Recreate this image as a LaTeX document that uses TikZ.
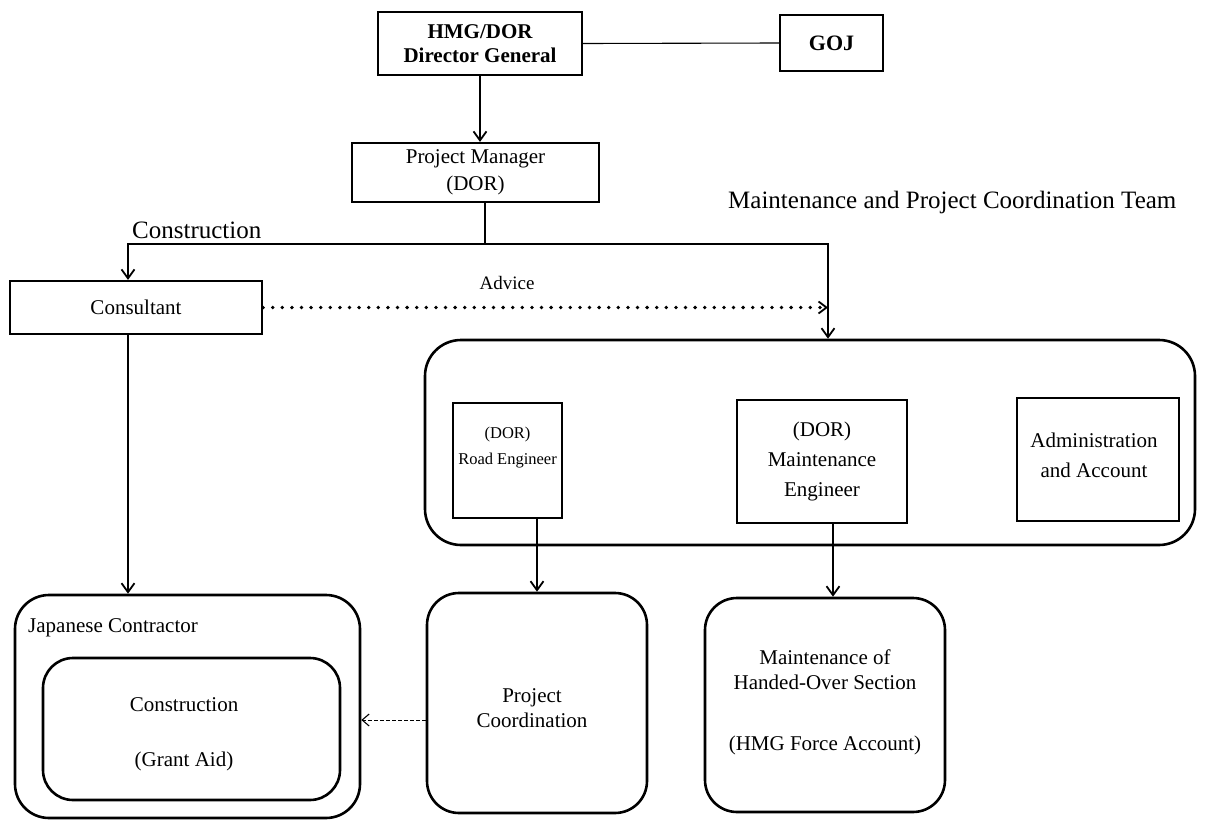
\documentclass[tikz,border=0pt]{standalone}
\usepackage{fontspec}
\setmainfont{Liberation Serif}
\usetikzlibrary{arrows.meta}
\begin{document}
\begin{tikzpicture}[x=1pt,y=-1pt,
  box/.style={draw,line width=2.2pt,inner sep=0pt,align=center,
    font=\fontsize{21}{25}\selectfont},
  rbox/.style={box,line width=2.6pt,rounded corners=32pt},
  txt/.style={inner sep=0pt,align=center,font=\fontsize{21}{25}\selectfont},
  lbl/.style={inner sep=0pt,font=\fontsize{25}{30}\selectfont},
  conn/.style={line width=2.2pt},
  arr/.style={conn,-{Straight Barb[length=9pt,width=13pt,line width=1.8pt]}},
  dots/.style={line width=3.8pt,line cap=round,dash pattern=on 0pt off 9.6pt,
    -{Straight Barb[length=8pt,width=12pt,line width=1.8pt,line cap=butt]}},
  thinarr/.style={line width=0.9pt,dash pattern=on 4pt off 2pt,
    -{Straight Barb[length=7pt,width=12pt,line width=1.1pt]}}]
\useasboundingbox (0,0) rectangle (1205,822);

% top level
\node[box,minimum width=204pt,minimum height=63pt,font=\bfseries\fontsize{21}{24}\selectfont]
  (hmg) at (480,43.5) {HMG/DOR\\Director General};
\node[box,minimum width=103pt,minimum height=56pt,font=\bfseries\fontsize{22}{26}\selectfont]
  (goj) at (831.5,43) {GOJ};
\draw[line width=1.1pt] (hmg.east) -- (goj.west);

\node[box,minimum width=247pt,minimum height=59pt,font=\fontsize{21}{27}\selectfont]
  (pm) at (475.5,172.5) {Project Manager\\(DOR)};
\draw[arr] (hmg.south) -- (hmg.south |- pm.north);

% branching below the project manager
\coordinate (split) at (485,244);
\coordinate (cL) at (128,244);
\coordinate (cR) at (828,244);
\node[lbl,anchor=west] (lcons) at (132,230) {Construction};
\node[lbl,anchor=west] (lteam) at (728,202) {Maintenance and Project Coordination Team};

\node[box,minimum width=252pt,minimum height=53pt] (cons) at (136,307.5) {Consultant};
\node[rbox,rounded corners=36pt,minimum width=770pt,minimum height=205pt] (big) at (810,442.5) {};

\draw[conn] (split |- pm.south) -- (split);
\draw[arr] (split) -- (cL) -- (cL |- cons.north);
\draw[arr] (split) -- (cR) -- (cR |- big.north);

% advice
\draw[dots] (cons.east) -- (cons.east -| cR);
\node[txt,font=\fontsize{19}{22}\selectfont] (ladv) at (507,283) {Advice};

% team members
\node[box,minimum width=109pt,minimum height=115pt] (road) at (507.5,460.5) {};
\node[txt,font=\fontsize{16.5}{26}\selectfont] (roadt) at (507.5,448) {(DOR)\\Road Engineer};
\node[box,minimum width=170pt,minimum height=123pt,font=\fontsize{21}{30}\selectfont]
  (maint) at (822,461.5) {(DOR)\\Maintenance\\Engineer};
\node[box,minimum width=162pt,minimum height=123pt] (admin) at (1098,459.5) {};
\node[txt,font=\fontsize{21}{30}\selectfont] (admint) at (1094,455) {Administration\\and Account};

% bottom row
\node[rbox,rounded corners=34pt,minimum width=345pt,minimum height=223pt] (jc) at (187.5,706.5) {};
\node[txt,anchor=west] (jct) at (28,628) {Japanese Contractor};
\node[rbox,rounded corners=30pt,minimum width=297pt,minimum height=142pt] (cg) at (191.5,729) {};
\node[txt,font=\fontsize{21}{55}\selectfont] (cgt) at (184,734) {Construction\\(Grant Aid)};

\node[rbox,minimum width=220pt,minimum height=220pt] (pc) at (537,703) {};
\node[txt] (pct) at (532,708) {Project\\Coordination};

\node[rbox,minimum width=240pt,minimum height=214pt] (mhs) at (825,705) {};
\node[txt] (mhst) at (825,702) {Maintenance of\\Handed-Over Section\\[36pt](HMG Force Account)};

\coordinate (mx) at (833,0);
\coordinate (ay) at (0,720);
\draw[arr] (cL |- cons.south) -- (cL |- jc.north);
\draw[arr] (pc.north |- road.south) -- (pc.north);
\draw[arr] (mx |- maint.south) -- (mx |- mhs.north);
\draw[thinarr] (pc.west |- ay) -- (jc.east |- ay);
\end{tikzpicture}
\end{document}
